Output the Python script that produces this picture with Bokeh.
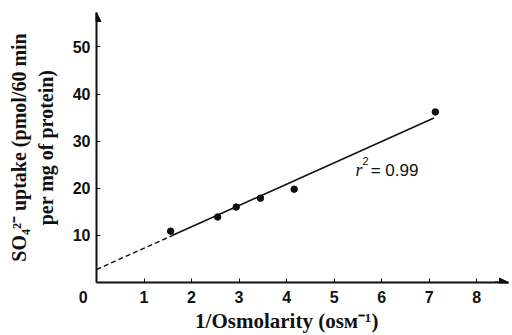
from bokeh.plotting import figure
from bokeh.models import Label, Arrow, NormalHead, FixedTicker, Range1d
from bokeh.embed import file_html
from bokeh.resources import INLINE

# data
inv_osm = [1.56, 2.55, 2.94, 3.45, 4.16, 7.13]
uptake = [10.9, 13.9, 16.0, 17.9, 19.8, 36.2]
fit_intercept = 2.75
fit_slope = 4.53
fit_solid_x = [1.59, 7.10]
fit_dash_x = [0.0, 1.59]
x_ticks = [0, 1, 2, 3, 4, 5, 6, 7, 8]
y_ticks = [10, 20, 30, 40, 50]
origin_label = "0" + "\u00a0" * 6
x_title = "1/Osmolarity (ᴏsᴍ⁻¹)" + "\u00a0" * 6
y_title = "SO₄²⁻ uptake (pmol/60 min\nper mg of protein)"
r2_value = "= 0.99"

X_MAX, Y_MAX = 8.67, 57.3
INK = "#111111"

p = figure(width=512, height=335, output_backend="svg", toolbar_location=None,
           x_range=Range1d(0, X_MAX), y_range=Range1d(0, Y_MAX),
           min_border_left=96, min_border_right=4, min_border_top=12, min_border_bottom=50)
p.outline_line_color = None
p.grid.visible = False
p.background_fill_color = "white"
p.border_fill_color = "white"

for ax, ticks in ((p.xaxis, x_ticks), (p.yaxis, y_ticks)):
    ax.ticker = FixedTicker(ticks=ticks)
    ax.axis_line_width = 2
    ax.axis_line_color = INK
    ax.major_tick_in = 4
    ax.major_tick_out = 0
    ax.major_tick_line_width = 1
    ax.major_tick_line_color = INK
    ax.minor_tick_line_color = None
    ax.major_label_text_font = "Liberation Sans"
    ax.major_label_text_font_size = "16px"
    ax.major_label_text_font_style = "bold"
    ax.major_label_text_color = INK
    ax.major_label_standoff = 6
    ax.axis_label_text_font = "Liberation Serif"
    ax.axis_label_text_font_style = "bold"
    ax.axis_label_text_color = INK

p.xaxis.major_label_overrides = {0: origin_label}
p.xaxis.axis_label = x_title
p.xaxis.axis_label_text_font_size = "21px"
p.xaxis.axis_label_standoff = 0
p.yaxis.axis_label = y_title
p.yaxis.axis_label_text_font_size = "20px"
p.yaxis.axis_label_standoff = 13

# fit lines
p.line(fit_solid_x, [fit_intercept + fit_slope * x for x in fit_solid_x],
       line_color=INK, line_width=1.6)
p.line(fit_dash_x, [fit_intercept + fit_slope * x for x in fit_dash_x],
       line_color=INK, line_width=1.4, line_dash="5 3")
p.scatter(inv_osm, uptake, size=6.5, color=INK)

# arrow heads on axes
p.add_layout(Arrow(x_start=0, y_start=Y_MAX - 2, x_end=0, y_end=Y_MAX,
                   line_width=2, line_color=INK,
                   end=NormalHead(size=9, fill_color=INK, line_color=INK)))
p.add_layout(Arrow(x_start=X_MAX - 0.3, y_start=0, x_end=X_MAX, y_end=0,
                   line_width=2, line_color=INK,
                   end=NormalHead(size=9, fill_color=INK, line_color=INK)))

# r^2 label
p.add_layout(Label(x=5.45, y=23.8, text="r", text_font="Liberation Serif",
                   text_font_style="italic", text_font_size="18px", text_color=INK,
                   text_baseline="alphabetic"))
p.add_layout(Label(x=5.60, y=25.7, text="2", text_font="Liberation Sans",
                   text_font_size="11px", text_color=INK, text_baseline="alphabetic"))
p.add_layout(Label(x=5.77, y=23.8, text=r2_value, text_font="Liberation Sans",
                   text_font_size="17px", text_color=INK, text_baseline="alphabetic"))

open("out.html", "w").write(file_html(p, INLINE))
